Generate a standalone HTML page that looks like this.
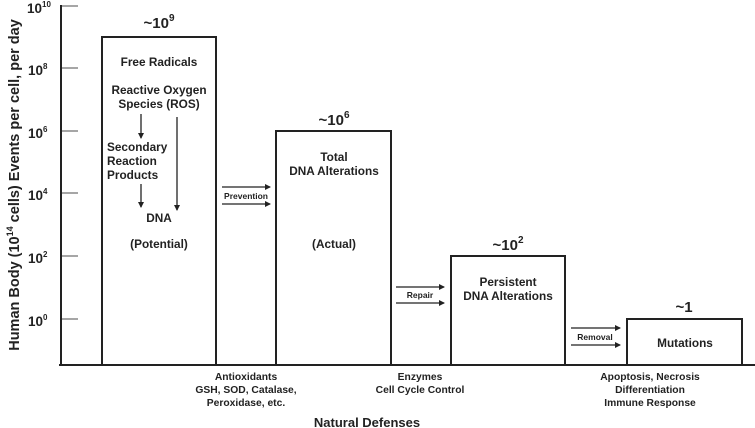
<!DOCTYPE html>
<html><head><style>html,body{margin:0;padding:0;background:#fff}svg{display:block}text{font-family:"Liberation Sans",Arial,sans-serif;font-weight:bold;fill:#222}</style></head>
<body>
<svg width="755" height="428" viewBox="0 0 755 428" xmlns="http://www.w3.org/2000/svg">
<defs><marker id="a" markerWidth="6" markerHeight="6" refX="5" refY="3" orient="auto" markerUnits="userSpaceOnUse"><path d="M0,0 L6,3 L0,6 z" fill="#222"/></marker></defs>
<g stroke="#888" stroke-width="1.5">
<line x1="61" y1="6" x2="78" y2="6"/><line x1="61" y1="68" x2="78" y2="68"/><line x1="61" y1="131" x2="78" y2="131"/><line x1="61" y1="193" x2="78" y2="193"/><line x1="61" y1="256" x2="78" y2="256"/><line x1="61" y1="319" x2="78" y2="319"/>
</g>
<g stroke="#222" stroke-width="2" fill="none">
<line x1="61" y1="5" x2="61" y2="366"/><line x1="59" y1="365" x2="755" y2="365"/>
<rect x="102" y="37" width="114" height="328"/>
<rect x="276" y="131" width="115" height="234"/>
<rect x="451" y="256" width="114" height="109"/>
<rect x="627" y="319" width="115" height="46"/>
</g>
<g stroke="#222" stroke-width="1.3" marker-end="url(#a)">
<line x1="141" y1="114" x2="141" y2="138"/><line x1="177" y1="117" x2="177" y2="210"/><line x1="141" y1="184" x2="141" y2="207"/>
<line x1="222" y1="187" x2="270" y2="187"/><line x1="222" y1="204" x2="270" y2="204"/>
<line x1="396" y1="287" x2="444" y2="287"/><line x1="396" y1="303" x2="444" y2="303"/>
<line x1="571" y1="328" x2="620" y2="328"/><line x1="571" y1="345" x2="620" y2="345"/>
</g>
<g font-size="13.5">
<text x="27" y="13">10<tspan font-size="8" dy="-6">10</tspan></text>
<text x="28" y="75">10<tspan font-size="8" dy="-6">8</tspan></text>
<text x="28" y="138">10<tspan font-size="8" dy="-6">6</tspan></text>
<text x="28" y="200">10<tspan font-size="8" dy="-6">4</tspan></text>
<text x="28" y="263">10<tspan font-size="8" dy="-6">2</tspan></text>
<text x="28" y="326">10<tspan font-size="8" dy="-6">0</tspan></text>
</g>
<text transform="translate(19,185) rotate(-90)" text-anchor="middle" font-size="14.5">Human Body (10<tspan font-size="9" dy="-6">14</tspan><tspan dy="6"> cells) Events per cell, per day</tspan></text>
<g font-size="15" text-anchor="middle">
<text x="159" y="28">~10<tspan font-size="10" dy="-7">9</tspan></text>
<text x="334" y="125">~10<tspan font-size="10" dy="-7">6</tspan></text>
<text x="508" y="250">~10<tspan font-size="10" dy="-7">2</tspan></text>
<text x="684" y="312">~1</text>
</g>
<g font-size="11.8" text-anchor="middle">
<text x="159" y="66">Free Radicals</text>
<text x="159" y="94">Reactive Oxygen</text><text x="159" y="108">Species (ROS)</text>
<text x="159" y="222">DNA</text><text x="159" y="248">(Potential)</text>
<text x="334" y="161">Total</text><text x="334" y="175">DNA Alterations</text><text x="334" y="248">(Actual)</text>
<text x="508" y="286">Persistent</text><text x="508" y="300">DNA Alterations</text>
<text x="685" y="347">Mutations</text>
</g>
<g font-size="11.8"><text x="107" y="151">Secondary</text><text x="107" y="165">Reaction</text><text x="107" y="179">Products</text></g>
<g font-size="8.5" text-anchor="middle">
<text x="246" y="199">Prevention</text><text x="420" y="298">Repair</text><text x="595" y="340">Removal</text>
</g>
<g font-size="10.3" text-anchor="middle">
<text x="246" y="380">Antioxidants</text><text x="246" y="393">GSH, SOD, Catalase,</text><text x="246" y="406">Peroxidase, etc.</text>
<text x="420" y="380">Enzymes</text><text x="420" y="393">Cell Cycle Control</text>
<text x="650" y="380">Apoptosis, Necrosis</text><text x="650" y="393">Differentiation</text><text x="650" y="406">Immune Response</text>
</g>
<text x="367" y="427" font-size="13" text-anchor="middle">Natural Defenses</text>
</svg>
</body></html>
